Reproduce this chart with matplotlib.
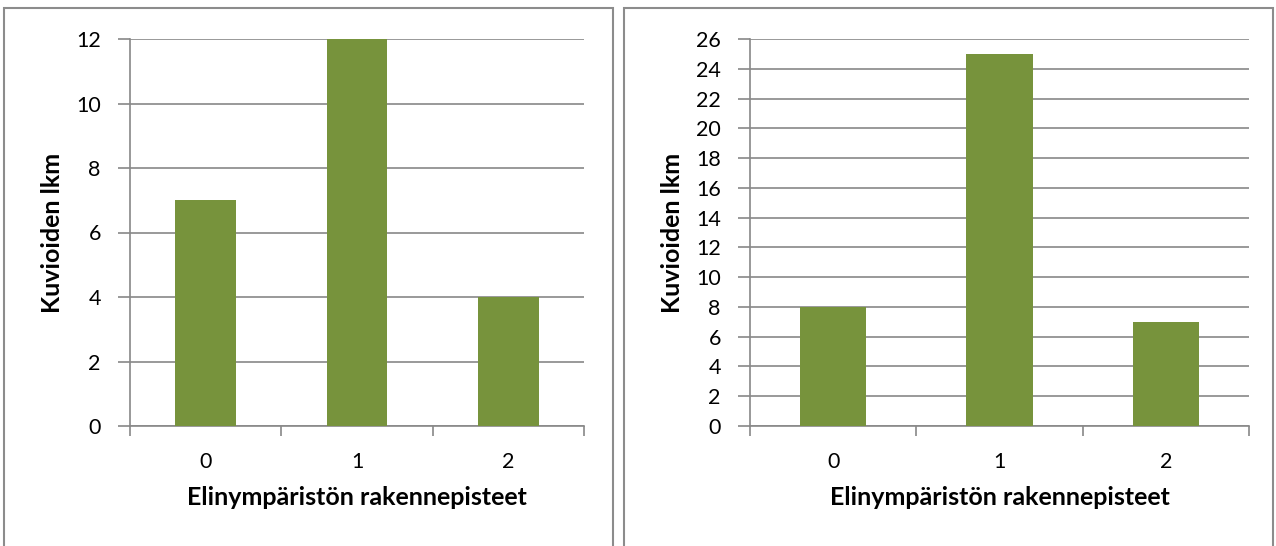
import matplotlib
matplotlib.use("Agg")
import matplotlib.pyplot as plt
from matplotlib.patches import Rectangle

categories = ["0", "1", "2"]
left_values = [7, 12, 4]
right_values = [8, 25, 7]
left_yticks = [0, 2, 4, 6, 8, 10, 12]
right_yticks = list(range(0, 27, 2))
xlabel = "Elinympäristön rakennepisteet"
ylabel = "Kuvioiden lkm"

plt.rcParams['font.family'] = ['Lato', 'DejaVu Sans']
W, H = 1276, 546
fig = plt.figure(figsize=(W / 100, H / 100), dpi=100)

bar_color = "#77933C"
grid_color = "#888888"

# panel borders
for (x0, x1) in [(4, 613), (624, 1273)]:
    fig.patches.append(Rectangle((x0 / W, 1 - 560 / H), (x1 - x0) / W, (560 - 8) / H,
                                 transform=fig.transFigure, fill=False,
                                 edgecolor="#8c8c8c", linewidth=1.5))

def panel(px0, px1, values, yticks, ylab_x):
    top, bottom = 39, 426
    ax = fig.add_axes([px0 / W, 1 - bottom / H, (px1 - px0) / W, (bottom - top) / H])
    x = list(range(len(categories)))
    ax.bar(x, values, width=0.4, color=bar_color, zorder=3)
    ax.set_xlim(-0.5, len(categories) - 0.5)
    ax.set_ylim(yticks[0], yticks[-1])
    ax.set_yticks(yticks)
    ax.set_yticklabels([str(t) for t in yticks], fontsize=15.5)
    ax.set_xticks(x)
    ax.set_xticklabels(categories, fontsize=15.5)
    ax.set_xticks([i - 0.5 for i in range(len(categories) + 1)], minor=True)
    ax.tick_params(axis='x', which='major', length=0, pad=19)
    ax.tick_params(axis='x', which='minor', length=7, width=1.2, color=grid_color, direction='out')
    ax.tick_params(axis='y', length=9, width=1.2, color=grid_color, pad=12)
    for s in ['top', 'right']:
        ax.spines[s].set_visible(False)
    for s in ['left', 'bottom']:
        ax.spines[s].set_color(grid_color)
        ax.spines[s].set_linewidth(1.2)
    ax.yaxis.grid(True, color=grid_color, linewidth=1.2, zorder=0)
    ax.set_axisbelow(True)
    ax.set_xlabel(xlabel, fontsize=18, fontweight='bold', labelpad=10)
    ax.set_ylabel(ylabel, fontsize=18, fontweight='bold')
    ax.yaxis.set_label_coords((ylab_x - px0) / (px1 - px0), 0.5)
    return ax

panel(130, 584, left_values, left_yticks, 64)
panel(750, 1249, right_values, right_yticks, 684)

fig.savefig("out.png", dpi=100)
